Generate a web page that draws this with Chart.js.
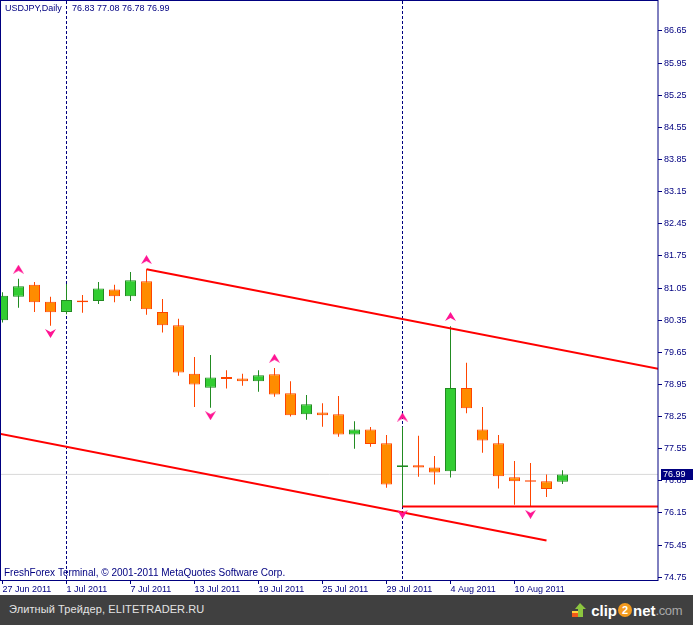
<!DOCTYPE html>
<html>
<head>
<meta charset="utf-8">
<script src="https://cdn.jsdelivr.net/npm/chart.js@4/dist/chart.umd.min.js"></script>
<style>
  body { margin: 0; background: #fff; }
  #wrap { position: relative; width: 693px; height: 595px; }
  #footer { position: relative; width: 693px; height: 30px; background: #404040; font-family: "Liberation Sans", Arial, sans-serif; }
  #site { position: absolute; left: 9px; top: 8px; font-size: 11px; color: #e4e4e4; letter-spacing: 0.1px; }
  #logo { position: absolute; left: 572px; top: 5px; height: 20px; display: flex; align-items: center; font-size: 15px; color: #fff; }
  #logo b { font-weight: bold; }
  #logo .two { display: inline-block; width: 14px; height: 14px; border-radius: 50%; background: #f39a1e; color: #fff; font-weight: bold; font-size: 11px; line-height: 14px; text-align: center; margin: 0 1px; }
  #logo .com { color: #a8a8a8; font-size: 13px; letter-spacing: -0.4px; }
</style>
</head>
<body>
<div id="wrap"><canvas id="chart" width="693" height="595"></canvas></div>
<div id="footer">
  <span id="site">Элитный Трейдер, ELITETRADER.RU</span>
  <div id="logo">
    <svg width="15" height="16" viewBox="0 0 15 16"><rect x="0" y="10" width="8" height="5" fill="#f05a1a"/><rect x="0" y="9" width="8" height="2" fill="#ffd23c"/><path d="M8 1 L14 7 L11 7 L11 15 L6 15 L6 7 L3 7 Z" fill="#8cc63f"/></svg>
    <b>&nbsp;clip</b><span class="two">2</span><b>net</b><span class="com">.com</span>
  </div>
</div>
<script>
// daily bars, 27 Jun 2011 .. 15 Aug 2011
const dates = [
  "27 Jun 2011", "28 Jun 2011", "29 Jun 2011", "30 Jun 2011", "1 Jul 2011",
  "4 Jul 2011", "5 Jul 2011", "6 Jul 2011", "7 Jul 2011", "8 Jul 2011",
  "11 Jul 2011", "12 Jul 2011", "13 Jul 2011", "14 Jul 2011", "15 Jul 2011",
  "18 Jul 2011", "19 Jul 2011", "20 Jul 2011", "21 Jul 2011", "22 Jul 2011",
  "25 Jul 2011", "26 Jul 2011", "27 Jul 2011", "28 Jul 2011", "29 Jul 2011",
  "1 Aug 2011", "2 Aug 2011", "3 Aug 2011", "4 Aug 2011", "5 Aug 2011",
  "8 Aug 2011", "9 Aug 2011", "10 Aug 2011", "11 Aug 2011", "12 Aug 2011",
  "15 Aug 2011"
];
const open  = [80.35, 80.86, 81.12, 80.75, 80.53, 80.78, 80.77, 81.02, 80.87, 81.20,
               80.53, 80.24, 79.18, 78.88, 79.11, 79.08, 79.02, 79.17, 78.76, 78.30,
               78.34, 78.30, 77.86, 77.97, 77.67, 77.15, 77.19, 77.14, 77.06, 78.87,
               77.97, 77.67, 76.93, 76.86, 76.84, 76.83];
const high  = [80.96, 81.25, 81.18, 80.86, 81.14, 80.90, 81.18, 81.12, 81.40, 81.46,
               80.81, 80.38, 79.55, 79.59, 79.26, 79.18, 79.26, 79.31, 79.02, 78.72,
               78.54, 78.70, 78.15, 78.02, 77.85, 78.03, 77.83, 77.39, 80.22, 79.42,
               78.46, 77.85, 77.28, 77.24, 76.99, 77.08];
const low   = [80.30, 80.62, 80.53, 80.23, 80.48, 80.51, 80.70, 80.74, 80.77, 80.47,
               80.08, 79.14, 78.46, 78.44, 78.86, 78.92, 78.79, 78.68, 78.25, 78.18,
               78.03, 77.81, 77.55, 77.59, 76.70, 76.29, 76.94, 76.77, 76.92, 78.32,
               77.46, 76.68, 76.33, 76.29, 76.50, 76.78];
const close = [80.88, 81.09, 80.74, 80.52, 80.79, 80.74, 81.04, 80.87, 81.22, 80.59,
               80.24, 79.21, 78.95, 79.10, 79.07, 79.02, 79.15, 78.73, 78.28, 78.52,
               78.28, 77.86, 77.97, 77.65, 76.77, 77.19, 77.14, 77.03, 78.87, 78.43,
               77.73, 76.95, 76.84, 76.83, 76.67, 76.99];

// fractal arrows (bar indexes)
const fractalUp = [1, 9, 17, 25, 28];
const fractalDown = [3, 13, 25, 33];

// price axis ticks
const priceTicks = [74.75, 75.45, 76.15, 76.85, 77.55, 78.25, 78.95, 79.65, 80.35,
                    81.05, 81.75, 82.45, 83.15, 83.85, 84.55, 85.25, 85.95, 86.65];
const dateTickIdx = [0, 4, 8, 12, 16, 20, 24, 28, 32];

// drawn objects: channel, support line, month separators
const upperChannel = [{ x: 9, y: 81.46 }, { x: 41, y: 79.29 }];
const lowerChannel = [{ x: -1, y: 77.93 }, { x: 34, y: 75.55 }];
const supportLine = [{ x: 25, y: 76.29 }, { x: 41, y: 76.29 }];
const separators = [4, 25];

const navy = "#000080";
const font = { family: "'Liberation Sans', Arial, sans-serif", size: 9 };
const idx = dates.map((d, i) => i);
const isBull = (i) => close[i] > open[i];

// little arrow images for the fractals
const makeArrow = (up) => {
  const c = document.createElement("canvas");
  c.width = 11;
  c.height = 9;
  const g = c.getContext("2d");
  g.fillStyle = "#ff1493";
  g.beginPath();
  if (up) {
    g.moveTo(5.5, 0); g.lineTo(11, 9); g.lineTo(5.5, 6); g.lineTo(0, 9);
  } else {
    g.moveTo(5.5, 9); g.lineTo(11, 0); g.lineTo(5.5, 3); g.lineTo(0, 0);
  }
  g.closePath();
  g.fill();
  return c;
};

const last = close.length - 1;

const frame = {
  id: "frame",
  beforeDatasetsDraw(chart) {
    const { ctx, chartArea, scales } = chart;
    ctx.save();
    ctx.strokeStyle = navy;
    ctx.lineWidth = 1;
    ctx.setLineDash([3, 2]);
    separators.forEach((s) => {
      const x = Math.round(scales.x.getPixelForValue(s)) - 0.5;
      ctx.beginPath();
      ctx.moveTo(x, chartArea.top);
      ctx.lineTo(x, chartArea.bottom);
      ctx.stroke();
    });
    ctx.restore();
  },
  afterDraw(chart) {
    const { ctx, chartArea, scales } = chart;
    ctx.save();
    ctx.strokeStyle = navy;
    ctx.lineWidth = 1;
    ctx.strokeRect(0.5, 0.5, chartArea.right - 0.5, chartArea.bottom);
    ctx.fillStyle = navy;
    ctx.font = "9px 'Liberation Sans', Arial, sans-serif";
    ctx.textBaseline = "middle";
    ctx.fillText("USDJPY,Daily", 5, 9);
    ctx.fillText([open[last], high[last], low[last], close[last]].map((v) => v.toFixed(2)).join(" "), 72, 9);
    ctx.font = "10px 'Liberation Sans', Arial, sans-serif";
    ctx.fillText("FreshForex Terminal, \u00a9 2001-2011 MetaQuotes Software Corp.", 4, 573);
    // last price box
    ctx.font = "9px 'Liberation Sans', Arial, sans-serif";
    const py = Math.round(scales.y.getPixelForValue(close[last]));
    ctx.fillRect(661, py - 5, 32, 11);
    ctx.fillStyle = "#fff";
    ctx.fillText(close[last].toFixed(2), 663, py + 0.5);
    ctx.restore();
  }
};

new Chart(document.getElementById("chart"), {
  type: "bar",
  data: {
    datasets: [
      {
        type: "line",
        data: fractalUp.map((i) => ({ x: i, y: high[i] + 0.21 })),
        showLine: false,
        pointStyle: makeArrow(true),
        pointRadius: 5,
        order: -1
      },
      {
        type: "line",
        data: fractalDown.map((i) => ({ x: i, y: low[i] - 0.17 })),
        showLine: false,
        pointStyle: makeArrow(false),
        pointRadius: 5,
        order: -1
      },
      {
        type: "line",
        data: upperChannel,
        borderColor: "#ff0000",
        borderWidth: 2,
        pointRadius: 0,
        order: 0
      },
      {
        type: "line",
        data: lowerChannel,
        borderColor: "#ff0000",
        borderWidth: 2,
        pointRadius: 0,
        order: 0
      },
      {
        type: "line",
        data: supportLine,
        borderColor: "#ff0000",
        borderWidth: 2,
        pointRadius: 0,
        order: 0
      },
      {
        // candle bodies
        data: idx.map((i) => ({ x: i, y: [open[i], close[i]] })),
        backgroundColor: idx.map((i) => (isBull(i) ? "#32cd32" : "#ff8c00")),
        borderColor: idx.map((i) => (isBull(i) ? "#228b22" : "#ff4500")),
        borderWidth: 1,
        borderSkipped: false,
        barThickness: 11,
        inflateAmount: 0,
        grouped: false,
        order: 1
      },
      {
        // wicks
        data: idx.map((i) => ({ x: i, y: [low[i], high[i]] })),
        backgroundColor: idx.map((i) => (isBull(i) ? "#228b22" : "#ff4500")),
        borderWidth: 0,
        barThickness: 1,
        inflateAmount: 0,
        grouped: false,
        order: 2
      },
      {
        // last price line
        type: "line",
        data: [{ x: -1, y: close[last] }, { x: 42, y: close[last] }],
        borderColor: "#d8d8d8",
        borderWidth: 1,
        pointRadius: 0,
        order: 3
      }
    ]
  },
  options: {
    responsive: false,
    animation: false,
    layout: { autoPadding: false, padding: { left: 1, top: 1 } },
    plugins: { legend: { display: false }, tooltip: { enabled: false } },
    scales: {
      x: {
        type: "linear",
        position: "bottom",
        min: -0.09375,
        max: 40.96875,
        offset: false,
        afterBuildTicks: (s) => { s.ticks = dateTickIdx.map((v) => ({ value: v })); },
        afterFit: (s) => { s.height = 15; s.paddingLeft = 0; s.paddingRight = 0; },
        border: { display: false },
        grid: { display: true, offset: false, drawOnChartArea: false, drawTicks: true, tickLength: 4, color: navy },
        ticks: {
          autoSkip: false,
          maxRotation: 0,
          align: "start",
          padding: 0,
          color: navy,
          font: font,
          callback: (v) => dates[v]
        }
      },
      y: {
        type: "linear",
        position: "right",
        min: 74.689,
        max: 87.3036,
        afterBuildTicks: (s) => { s.ticks = priceTicks.map((v) => ({ value: v })); },
        afterFit: (s) => { s.width = 35; s.paddingTop = 0; s.paddingBottom = 0; },
        border: { display: false },
        grid: { display: true, drawOnChartArea: false, drawTicks: true, tickLength: 4, color: navy },
        ticks: {
          padding: 2,
          color: navy,
          font: font,
          callback: (v) => v.toFixed(2)
        }
      }
    }
  },
  plugins: [frame]
});
</script>
</body>
</html>
